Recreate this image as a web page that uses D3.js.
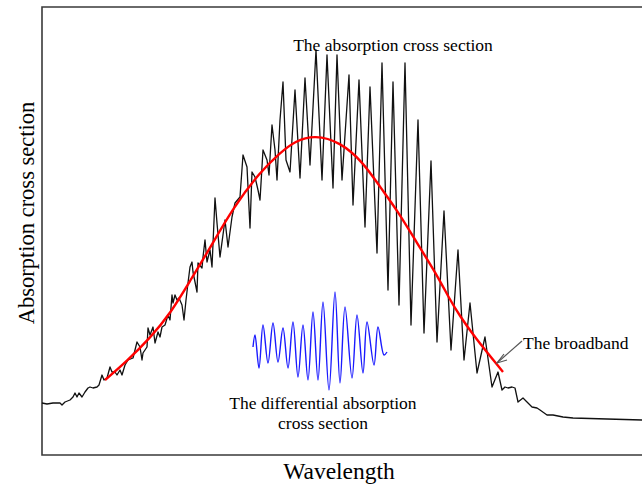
<!DOCTYPE html>
<html>
<head>
<meta charset="utf-8">
<script src="https://cdn.jsdelivr.net/npm/d3@7"></script>
<style>
  body { margin: 0; background: #fff; }
  svg { display: block; }
  text { font-family: "Liberation Serif", "Times New Roman", serif; fill: #000; }
</style>
</head>
<body>
<svg class="chart"></svg>
<script>
// wavelength / cross section readings (arbitrary units)
const crossX = [0,5,11,18,20,23,28,31,33,35,37,40,43,46,48,51,55,57,60,62,65,68,70,73,75,78,80,83,86,91,95,98,100,101,105,106,108,111,113,116,118,120,123,126,128,130,131,133,135,137,140,142,144,146,148,150,151,155,156,160,161,163,165,168,170,173,175,178,183,186,190,193,198,201,205,208,210,213,216,218,221,225,227,230,233,235,238,241,244,248,253,258,263,268,274,280,285,291,295,300,307,311,317,323,328,335,340,346,351,357,363,369,376,382,389,395,402,409,416,422,428,435,443,450,456,460,463,466,470,473,476,481,486,490,495,498,505,511,521,531,565,600];
const crossY = [52,51,52,52,50,53,55,58,62,58,62,58,63,67,68,67,68,70,80,75,77,88,83,83,80,85,80,90,95,97,113,108,95,102,108,127,120,128,112,123,118,128,130,140,135,160,152,160,155,157,150,135,155,172,188,193,183,163,192,187,198,215,193,205,188,257,232,198,235,208,238,252,258,300,288,227,283,278,265,255,305,295,280,330,305,275,335,373,295,283,365,277,377,290,405,275,400,267,400,275,380,250,375,228,368,202,392,165,373,150,392,130,335,122,294,113,244,105,205,95,152,82,118,68,83,65,68,67,68,67,53,57,52,48,47,45,40,40,38,37,36,35];

const broadX = [63,85,108,128,148,168,191,218,238,253,273,298,321,338,355,375,395,408,418,431,461];
const broadY = [75,94,117,141,174,207,247,283,302,314,320,313,293,268,245,212,180,155,139,120,83];

const diffX = [211,213,217,221,226,231,236,241,246,251,256,261,266,271,276,281,287,293,298,303,310,315,321,325,332,336,342,345];
const diffY = [108,120,87,130,92,132,93,127,87,133,78,130,75,143,75,153,65,163,72,148,77,140,82,133,90,128,100,103];

const width = 642;
const height = 487;

const svg = d3.select(".chart")
    .attr("width", width)
    .attr("height", height);

const x = d3.scaleLinear().domain([0, 600]).range([42, 642]);
const y = d3.scaleLinear().domain([0, 450]).range([455, 5]);

// frame: top, left, bottom
svg.append("path")
    .attr("d", `M${width},${y(448)}H${x(0)}V${y(0)}H${width}`)
    .attr("fill", "none")
    .attr("stroke", "#3a3a3a")
    .attr("stroke-width", 1.6);

const line = d3.line()
    .x(d => x(d[0]))
    .y(d => y(d[1]));

svg.append("path")
    .datum(d3.zip(crossX, crossY))
    .attr("d", line)
    .attr("fill", "none")
    .attr("stroke", "#111")
    .attr("stroke-width", 1.3)
    .attr("stroke-linejoin", "round");

svg.append("path")
    .datum(d3.zip(broadX, broadY))
    .attr("d", line.curve(d3.curveBasis))
    .attr("fill", "none")
    .attr("stroke", "#ff0000")
    .attr("stroke-width", 2.4);

svg.append("path")
    .datum(d3.zip(diffX, diffY))
    .attr("d", line.curve(d3.curveCatmullRom))
    .attr("fill", "none")
    .attr("stroke", "#1a1aff")
    .attr("stroke-width", 1.4);

// arrow to the broadband curve
svg.append("line")
    .attr("x1", 522).attr("y1", 341)
    .attr("x2", 497).attr("y2", 363)
    .attr("stroke", "#555")
    .attr("stroke-width", 1.2);
svg.append("path")
    .attr("d", "M504,354L497,363L507,360")
    .attr("fill", "none")
    .attr("stroke", "#555")
    .attr("stroke-width", 1.2);

svg.append("text")
    .attr("x", 393).attr("y", 51)
    .attr("text-anchor", "middle")
    .style("font-size", "17.5px")
    .text("The absorption cross section");

svg.append("text")
    .attr("x", 523).attr("y", 349)
    .style("font-size", "17.5px")
    .text("The broadband");

svg.append("text")
    .attr("x", 323).attr("y", 409)
    .attr("text-anchor", "middle")
    .style("font-size", "17.5px")
    .text("The differential absorption");

svg.append("text")
    .attr("x", 323).attr("y", 429)
    .attr("text-anchor", "middle")
    .style("font-size", "17.5px")
    .text("cross section");

svg.append("text")
    .attr("x", 339).attr("y", 479)
    .attr("text-anchor", "middle")
    .style("font-size", "23.5px")
    .text("Wavelength");

svg.append("text")
    .attr("transform", "translate(34,213) rotate(-90)")
    .attr("text-anchor", "middle")
    .style("font-size", "22.5px")
    .text("Absorption cross section");
</script>
</body>
</html>
